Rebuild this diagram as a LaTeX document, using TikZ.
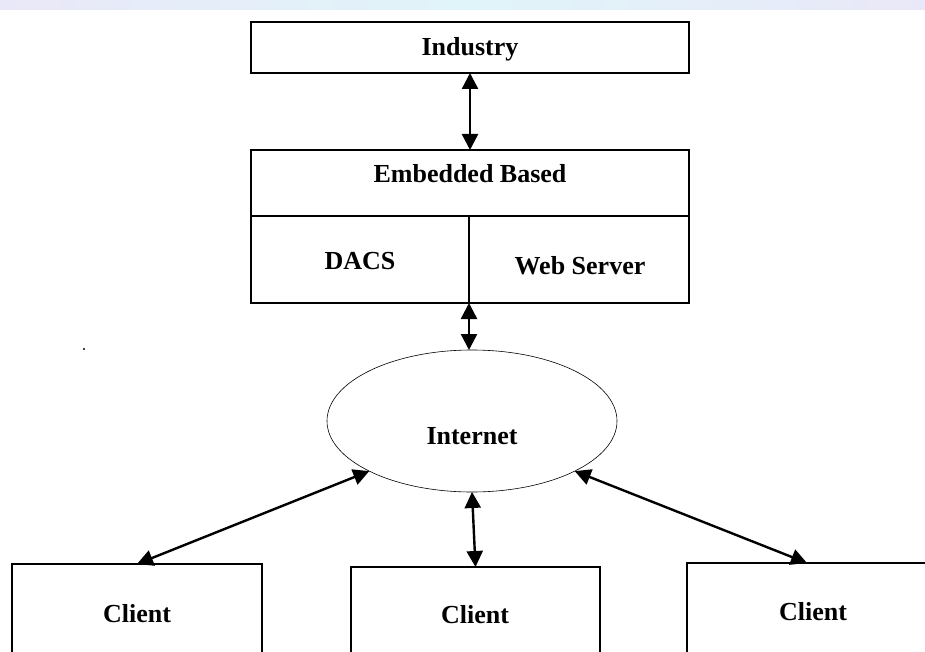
\documentclass[tikz,border=0pt]{standalone}
\usepackage{fontspec}
\setmainfont{Liberation Serif}
\usetikzlibrary{arrows.meta,shapes.geometric}
\definecolor{wmA}{HTML}{E4E2F6}
\definecolor{wmB}{HTML}{D8F2F8}
\begin{document}
\begin{tikzpicture}[x=1pt,y=-1pt,
  box/.style={draw,line width=1.6pt,rectangle,inner sep=0pt,outer sep=0pt},
  lbl/.style={font=\fontsize{26}{30}\selectfont\bfseries,inner sep=0pt,anchor=base},
  link/.style={line width=2.4pt,{Triangle[length=16pt,width=16pt]}-{Triangle[length=16pt,width=16pt]}}]
\useasboundingbox (0,0) rectangle (925,652);
\clip (0,0) rectangle (925,652);
% faint watermark band
\shade[left color=wmA,right color=wmB,opacity=0.8] (0,0) rectangle (470,10);
\shade[left color=wmB,right color=wmA,opacity=0.8] (470,0) rectangle (925,10);
% boxes
\node[box,minimum width=438pt,minimum height=51pt] (ind) at (470,47.5) {};
\node[box,minimum width=438pt,minimum height=66pt] (emb) at (470,183) {};
\node[box,minimum width=218pt,minimum height=87pt] (dacs) at (360,259.5) {};
\node[box,minimum width=220pt,minimum height=87pt] (web) at (579,259.5) {};
\node[draw,ellipse,line width=0.6pt,minimum width=290pt,minimum height=142pt,inner sep=0pt,outer sep=0pt] (inet) at (472,421) {};
\node[box,minimum width=250pt,minimum height=136pt] (c1) at (137,632) {};
\node[box,minimum width=249pt,minimum height=133pt] (c2) at (475.5,633.5) {};
\node[box,minimum width=240pt,minimum height=137pt] (c3) at (807,631.5) {};
% labels
\node[lbl] (tind) at (470,56) {Industry};
\node[lbl] (temb) at (470,183) {Embedded Based};
\node[lbl] (tdacs) at (360,269) {DACS};
\node[lbl] (tweb) at (580,274) {Web Server};
\node[lbl] (tinet) at (472,444) {Internet};
\node[lbl] (tc1) at (137,622) {Client};
\node[lbl] (tc2) at (475,623) {Client};
\node[lbl] (tc3) at (813,620) {Client};
% stray dot
\fill (84,349) circle (1.2pt);
% connectors
\draw[link] (ind.south) -- (emb.north);
\draw[link] (dacs.south east) -- (dacs.south east |- inet.north);
\draw[link] (inet.206) -- (c1.north);
\draw[link] (inet.south) -- (c2.north);
\draw[link] (inet.334) -- (c3.north);
\end{tikzpicture}
\end{document}
